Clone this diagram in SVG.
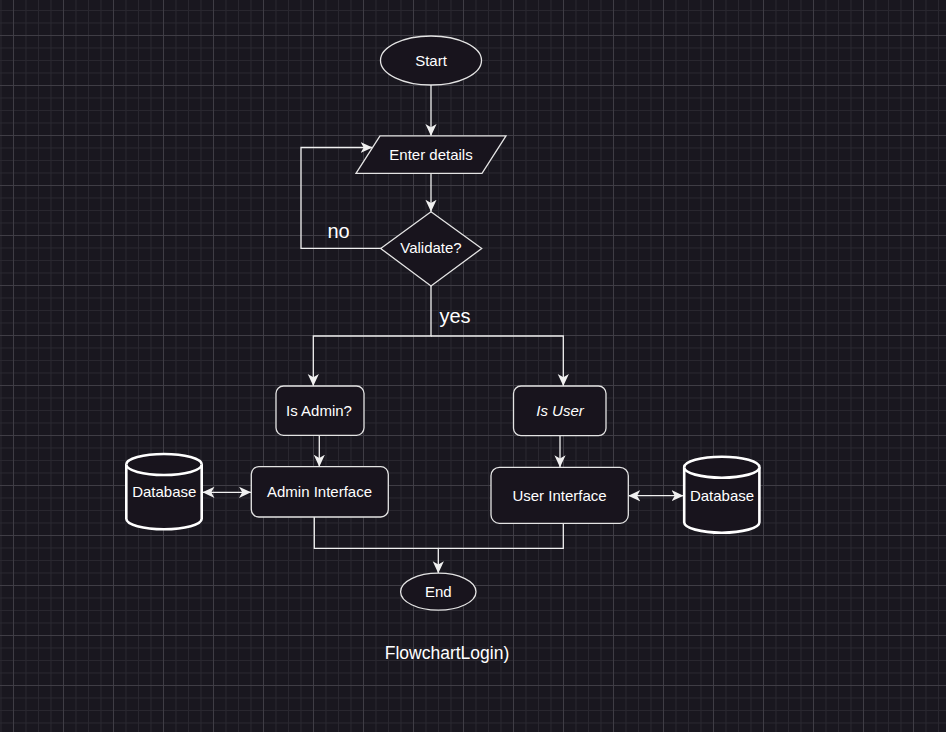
<svg xmlns="http://www.w3.org/2000/svg" width="946" height="732" viewBox="0 0 946 732">
<defs>
<pattern id="grid" x="13" y="35" width="50" height="50" patternUnits="userSpaceOnUse">
<path d="M13 0V50M25.5 0V50M38 0V50M0 13H50M0 25.5H50M0 38H50" stroke="#29272f" stroke-width="1" fill="none"/>
<path d="M0.5 0V50M0 0.5H50" stroke="#3f3d45" stroke-width="1" fill="none"/>
</pattern>
<marker id="arr" viewBox="0 0 12 12" refX="12" refY="6" markerWidth="12" markerHeight="12" markerUnits="userSpaceOnUse" orient="auto-start-reverse">
<path d="M0 0.4 L12 6 L0 11.6 L3.2 6 Z" fill="#f0f0f0"/>
</marker>
</defs>
<style>
.shape{fill:#18141d;stroke:#e4e4e4;stroke-width:1.3}
.db{fill:#18141d;stroke:#ffffff;stroke-width:2.6}
.t{font-family:"Liberation Sans",Arial,sans-serif;font-size:15px;fill:#ffffff;text-anchor:middle}
.lbl{font-family:"Liberation Sans",Arial,sans-serif;font-size:20px;fill:#ffffff}
.edge{fill:none;stroke:#f0f0f0;stroke-width:1.3}
.arrow{marker-end:url(#arr)}
.both{marker-start:url(#arr);marker-end:url(#arr)}
</style>
<rect width="946" height="732" fill="#19171f"/>
<rect width="946" height="732" fill="url(#grid)"/>

<g id="connectors">
<path class="edge arrow" d="M431 85V136"/>
<path class="edge arrow" d="M431 173.3V211.7"/>
<path class="edge arrow" d="M381 248.3H301V147.5H372.5"/>
<path class="edge arrow" d="M431 286V336H313.3V386"/>
<path class="edge arrow" d="M431 336H563.3V386"/>
<path class="edge arrow" d="M319.3 435.3V466.7"/>
<path class="edge arrow" d="M560 435.7V467.3"/>
<path class="edge both" d="M202.5 492.3H251"/>
<path class="edge both" d="M628.3 495.7H683.5"/>
<path class="edge arrow" d="M314.3 517V548.3H438.3V573.3"/>
<path class="edge" d="M563.3 523.3V548.3H438.3"/>
<text class="lbl" x="338.5" y="237.5" text-anchor="middle">no</text>
<text class="lbl" x="439.5" y="322.5">yes</text>
</g>

<g id="start">
<ellipse class="shape" cx="431" cy="60.5" rx="50.5" ry="24.5"/>
<text class="t" x="431" y="66">Start</text>
</g>
<g id="enter-details">
<polygon class="shape" points="380,135.8 506,135.8 482,173.3 356,173.3"/>
<text class="t" x="431" y="160">Enter details</text>
</g>
<g id="validate">
<polygon class="shape" points="431,211.7 481.7,248.5 431,286 380.7,248.5"/>
<text class="t" x="431" y="253">Validate?</text>
</g>
<g id="is-admin">
<rect class="shape" x="276" y="386" width="88" height="49.3" rx="7.5"/>
<text class="t" x="319" y="416">Is Admin?</text>
</g>
<g id="is-user">
<rect class="shape" x="513.5" y="386" width="92.5" height="49.7" rx="7.5"/>
<text class="t" x="560" y="416" font-style="italic">Is User</text>
</g>
<g id="admin-interface">
<rect class="shape" x="251.3" y="466.7" width="137" height="50.3" rx="7.5"/>
<text class="t" x="319.5" y="497">Admin Interface</text>
</g>
<g id="user-interface">
<rect class="shape" x="491" y="467.3" width="137.3" height="56" rx="8.4"/>
<text class="t" x="559.5" y="500.5">User Interface</text>
</g>
<g id="database-left">
<path class="db" d="M126.3 464.5A37.7 10.5 0 0 1 201.7 464.5V518.8A37.7 10.5 0 0 1 126.3 518.8Z"/>
<path class="db" fill="none" d="M126.3 464.5A37.7 10.5 0 0 0 201.7 464.5"/>
<text class="t" x="164.3" y="497">Database</text>
</g>
<g id="database-right">
<path class="db" d="M684.2 467.2A37.6 10.5 0 0 1 759.4 467.2V522.2A37.6 10.5 0 0 1 684.2 522.2Z"/>
<path class="db" fill="none" d="M684.2 467.2A37.6 10.5 0 0 0 759.4 467.2"/>
<text class="t" x="722" y="500.7">Database</text>
</g>
<g id="end">
<ellipse class="shape" cx="438.3" cy="591.7" rx="37.7" ry="18.5"/>
<text class="t" x="438.3" y="597.3">End</text>
</g>
<g id="title">
<text class="t" x="447" y="658.5" style="font-size:17.5px">FlowchartLogin)</text>
</g>
</svg>
